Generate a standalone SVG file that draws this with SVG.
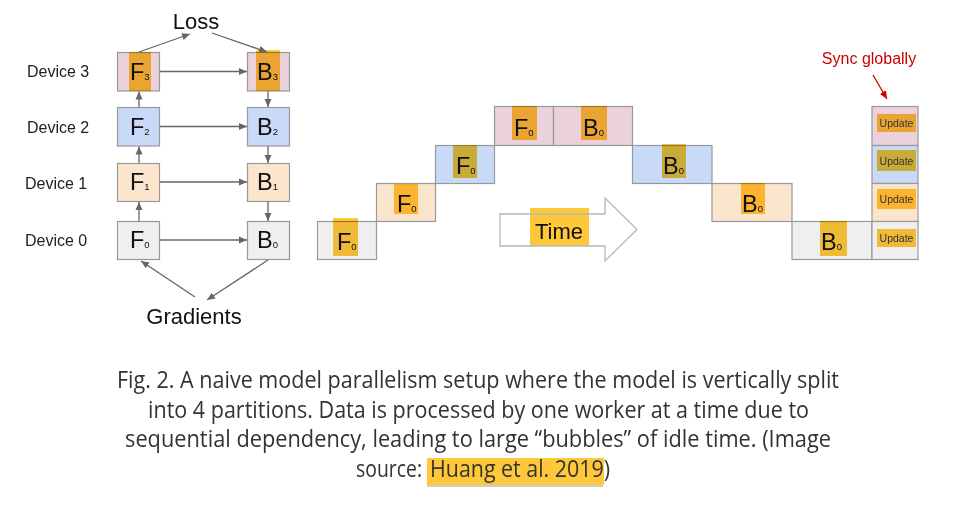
<svg xmlns="http://www.w3.org/2000/svg" width="975" height="526" viewBox="0 0 975 526">
<defs>
<marker id="ah" markerUnits="userSpaceOnUse" markerWidth="9" markerHeight="8" refX="8" refY="4" orient="auto">
<path d="M0,0.5 L8,4 L0,7.5 Z" fill="#666"/>
</marker>
<marker id="ahr" markerUnits="userSpaceOnUse" markerWidth="9" markerHeight="8" refX="8" refY="4" orient="auto">
<path d="M0,0.5 L8,4 L0,7.5 Z" fill="#cc0000"/>
</marker>
<style>
.box{stroke:#999;stroke-width:1.2}
.pink{fill:#ead1dc}.blue{fill:#c9daf8}.tan{fill:#fce5cd}.grey{fill:#efefef}
.hl{fill:#ffc83a;mix-blend-mode:multiply}
.big{font-family:"Liberation Sans",Arial,sans-serif;font-size:23.5px;fill:#111}
.sub{font-size:9.5px}
.lab{font-family:"Liberation Sans",Arial,sans-serif;font-size:16px;fill:#222}
.ttl{font-family:"Liberation Sans",Arial,sans-serif;font-size:22px;fill:#111}
.upd{font-family:"Liberation Sans",Arial,sans-serif;font-size:10.5px;fill:#333;text-anchor:middle}
.conn{stroke:#666;stroke-width:1.3;fill:none;marker-end:url(#ah)}
.cap{font-family:"Open Sans","Noto Sans",sans-serif;font-size:23px;fill:#333}
</style>
</defs>
<rect width="975" height="526" fill="#fff"/>

<!-- left device labels -->
<g id="labels">
<text class="lab" x="27" y="77">Device 3</text>
<text class="lab" x="27" y="133">Device 2</text>
<text class="lab" x="25" y="189">Device 1</text>
<text class="lab" x="25" y="246">Device 0</text>
<text class="ttl" x="196" y="29" text-anchor="middle">Loss</text>
<text class="ttl" x="194" y="324" text-anchor="middle">Gradients</text>
</g>

<!-- left nodes -->
<g id="F3"><rect class="box pink" x="117.5" y="52.5" width="42" height="38.5"/><rect class="hl" x="129" y="52" width="22" height="39"/><text class="big" x="130" y="80">F<tspan class="sub">3</tspan></text></g>
<g id="B3"><rect class="box pink" x="247.5" y="52.5" width="42" height="38.5"/><rect class="hl" x="256" y="50" width="24" height="41"/><text class="big" x="257" y="80">B<tspan class="sub">3</tspan></text></g>
<g id="F2"><rect class="box blue" x="117.5" y="107.5" width="42" height="38.5"/><text class="big" x="130" y="135">F<tspan class="sub">2</tspan></text></g>
<g id="B2"><rect class="box blue" x="247.5" y="107.5" width="42" height="38.5"/><text class="big" x="257" y="135">B<tspan class="sub">2</tspan></text></g>
<g id="F1"><rect class="box tan" x="117.5" y="163.5" width="42" height="38"/><text class="big" x="130" y="190">F<tspan class="sub">1</tspan></text></g>
<g id="B1"><rect class="box tan" x="247.5" y="163.5" width="42" height="38"/><text class="big" x="257" y="190">B<tspan class="sub">1</tspan></text></g>
<g id="F0"><rect class="box grey" x="117.5" y="221.5" width="42" height="38"/><text class="big" x="130" y="248">F<tspan class="sub">0</tspan></text></g>
<g id="B0"><rect class="box grey" x="247.5" y="221.5" width="42" height="38"/><text class="big" x="257" y="248">B<tspan class="sub">0</tspan></text></g>

<!-- connectors -->
<g id="connectors">
<line class="conn" x1="160" y1="71.5" x2="247" y2="71.5"/>
<line class="conn" x1="160" y1="126.5" x2="247" y2="126.5"/>
<line class="conn" x1="160" y1="182" x2="247" y2="182"/>
<line class="conn" x1="160" y1="240" x2="247" y2="240"/>
<line class="conn" x1="139" y1="221" x2="139" y2="202"/>
<line class="conn" x1="139" y1="163" x2="139" y2="146.5"/>
<line class="conn" x1="139" y1="107" x2="139" y2="91.5"/>
<line class="conn" x1="268" y1="91" x2="268" y2="107"/>
<line class="conn" x1="268" y1="146" x2="268" y2="163"/>
<line class="conn" x1="268" y1="201.5" x2="268" y2="221"/>
<line class="conn" x1="139" y1="52" x2="190" y2="34"/>
<line class="conn" x1="212" y1="33" x2="267" y2="52"/>
<line class="conn" x1="195" y1="297" x2="141" y2="261"/>
<line class="conn" x1="268" y1="260" x2="207" y2="300"/>
<line x1="873" y1="75" x2="887" y2="99" stroke="#cc0000" stroke-width="1.3" marker-end="url(#ahr)"/>
</g>

<!-- timeline -->
<g id="t-F0-d0"><rect class="box grey" x="317.5" y="221.5" width="59" height="38"/><rect class="hl" x="333" y="218" width="25" height="38"/><text class="big" x="337" y="250">F<tspan class="sub">0</tspan></text></g>
<g id="t-F0-d1"><rect class="box tan" x="376.5" y="183.5" width="59" height="38"/><rect class="hl" x="394" y="184" width="24" height="30"/><text class="big" x="397" y="212">F<tspan class="sub">0</tspan></text></g>
<g id="t-F0-d2"><rect class="box blue" x="435.5" y="145.5" width="59" height="38"/><rect class="hl" x="453" y="145" width="24" height="33"/><text class="big" x="456" y="174">F<tspan class="sub">0</tspan></text></g>
<g id="t-F0-d3"><rect class="box pink" x="494.5" y="106.5" width="59" height="39"/><rect class="hl" x="512" y="106" width="25" height="34"/><text class="big" x="514" y="136">F<tspan class="sub">0</tspan></text></g>
<g id="t-B0-d3"><rect class="box pink" x="553.5" y="106.5" width="79" height="39"/><rect class="hl" x="581" y="106" width="26" height="34"/><text class="big" x="583" y="136">B<tspan class="sub">0</tspan></text></g>
<g id="t-B0-d2"><rect class="box blue" x="632.5" y="145.5" width="79.5" height="38"/><rect class="hl" x="662" y="144" width="24" height="34"/><text class="big" x="663" y="174">B<tspan class="sub">0</tspan></text></g>
<g id="t-B0-d1"><rect class="box tan" x="712" y="183.5" width="80" height="38"/><rect class="hl" x="741" y="183" width="24" height="31"/><text class="big" x="742" y="212">B<tspan class="sub">0</tspan></text></g>
<g id="t-B0-d0"><rect class="box grey" x="792" y="221.5" width="80" height="38"/><rect class="hl" x="820" y="221" width="27" height="35"/><text class="big" x="821" y="250">B<tspan class="sub">0</tspan></text></g>

<g id="u3"><rect class="box pink" x="872" y="106.5" width="46" height="39"/><rect class="hl" x="877" y="114" width="39" height="18"/><text class="upd" x="896.5" y="127">Update</text></g>
<g id="u2"><rect class="box blue" x="872" y="145.5" width="46" height="38"/><rect class="hl" x="877" y="150" width="39" height="21"/><text class="upd" x="896.5" y="165">Update</text></g>
<g id="u1"><rect class="box tan" x="872" y="183.5" width="46" height="38"/><rect class="hl" x="877" y="189" width="39" height="20"/><text class="upd" x="896.5" y="203">Update</text></g>
<g id="u0"><rect class="box grey" x="872" y="221.5" width="46" height="38"/><rect class="hl" x="877" y="229" width="39" height="18"/><text class="upd" x="896.5" y="242">Update</text></g>

<g id="sync"><text x="869" y="64" text-anchor="middle" font-family="Liberation Sans, Arial, sans-serif" font-size="16" fill="#cc0000">Sync globally</text></g>

<g id="time">
<rect class="hl" x="530" y="208" width="59" height="38"/>
<polygon points="500,214 605,214 605,198 637,229.5 605,261 605,246 500,246" fill="none" stroke="#b7b7b7" stroke-width="1.3"/>
<text class="ttl" x="559" y="239" text-anchor="middle" font-size="23">Time</text>
</g>

<!-- caption -->
<g id="caption">
<text class="cap" x="117" y="388" textLength="722" lengthAdjust="spacingAndGlyphs">Fig. 2. A naive model parallelism setup where the model is vertically split</text>
<text class="cap" x="148" y="418" textLength="661" lengthAdjust="spacingAndGlyphs">into 4 partitions. Data is processed by one worker at a time due to</text>
<text class="cap" x="125" y="447" textLength="706" lengthAdjust="spacingAndGlyphs">sequential dependency, leading to large “bubbles” of idle time. (Image</text>
<rect x="427" y="458" width="177" height="27" fill="#ffc83a"/>
<line x1="427" y1="486" x2="603" y2="486" stroke="#999" stroke-width="1"/>
<text class="cap" x="356" y="477" textLength="66" lengthAdjust="spacingAndGlyphs">source:</text>
<text class="cap" x="430" y="477" textLength="180" lengthAdjust="spacingAndGlyphs">Huang et al. 2019)</text>
</g>
</svg>
